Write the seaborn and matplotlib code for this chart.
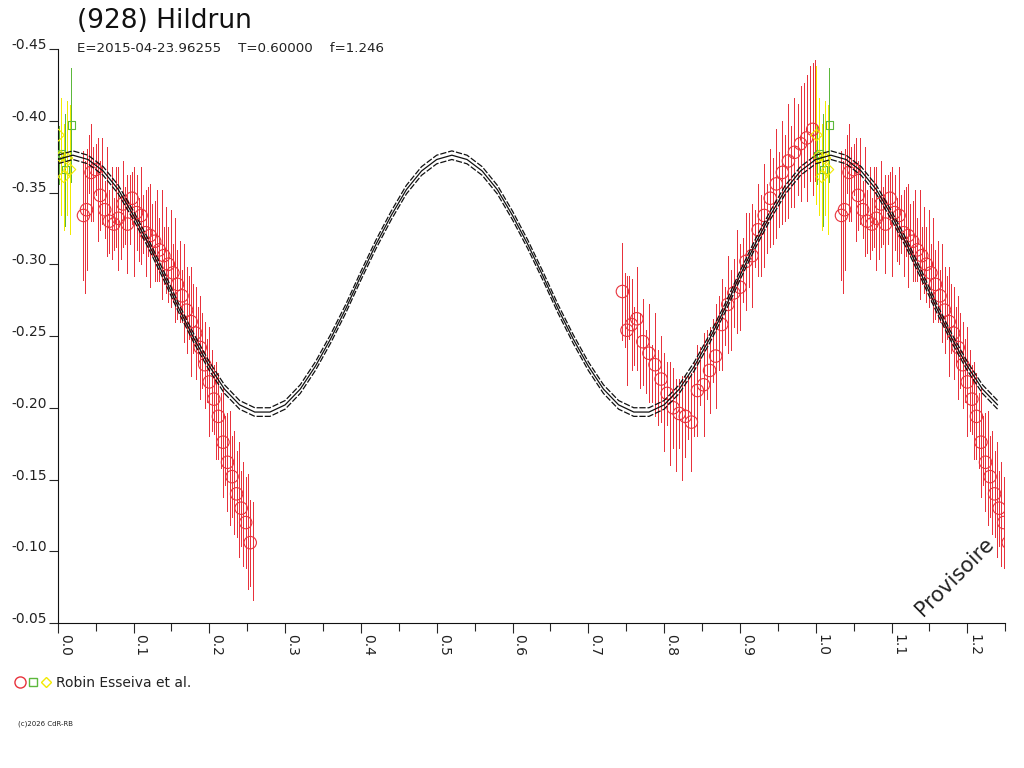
import numpy as np
import pandas as pd
import matplotlib
matplotlib.use("Agg")
import matplotlib.pyplot as plt
from matplotlib.lines import Line2D
from matplotlib.legend_handler import HandlerTuple
import seaborn as sns

TITLE = "(928) Hildrun"
SUBTITLE = "E=2015-04-23.96255    T=0.60000    f=1.246"
OBSERVER = "Robin Esseiva et al."
CREDIT = "(c)2026 CdR-RB"
WATERMARK = "Provisoire"

RED = "#e8323c"
GREEN = "#5cb83c"
YELLOW = "#f2ea00"
INK = "#222222"

# fitted curve, phase 0..1 every 0.02
fit_mag = [-0.373, -0.376, -0.373, -0.365, -0.352, -0.334, -0.314, -0.292, -0.269,
           -0.248, -0.229, -0.213, -0.202, -0.197, -0.197, -0.202, -0.213, -0.229,
           -0.248, -0.269, -0.292, -0.314, -0.334, -0.352, -0.365, -0.373, -0.376,
           -0.373, -0.365, -0.352, -0.334, -0.314, -0.292, -0.269, -0.248, -0.229,
           -0.213, -0.202, -0.197, -0.197, -0.202, -0.213, -0.229, -0.248, -0.269,
           -0.292, -0.314, -0.334, -0.352, -0.365, -0.373]
fit_phase = np.round(np.linspace(0, 1, len(fit_mag)), 2)
fit_band = 0.003

# red session (circles)
red_phase = [0.034, 0.036, 0.038, 0.041, 0.044, 0.047, 0.050, 0.053, 0.056, 0.059,
             0.062, 0.065, 0.068, 0.071, 0.074, 0.077, 0.080, 0.083, 0.086, 0.089,
             0.092, 0.095, 0.098, 0.101, 0.104, 0.107, 0.110, 0.113, 0.116, 0.119,
             0.122, 0.125, 0.128, 0.131, 0.134, 0.137, 0.140, 0.143, 0.146, 0.149,
             0.152, 0.155, 0.158, 0.161, 0.164, 0.167, 0.170, 0.173, 0.176, 0.179,
             0.182, 0.185, 0.188, 0.191, 0.194, 0.197, 0.200, 0.203, 0.206, 0.209,
             0.212, 0.215, 0.218, 0.221, 0.224, 0.227, 0.230, 0.233, 0.236, 0.239,
             0.242, 0.245, 0.248, 0.251, 0.254, 0.257,
             0.745, 0.748, 0.751, 0.754, 0.757, 0.760, 0.764, 0.768, 0.772, 0.776,
             0.780, 0.784, 0.788, 0.792, 0.796, 0.800, 0.804, 0.808, 0.812, 0.816,
             0.820, 0.824, 0.828, 0.832, 0.836, 0.840, 0.844, 0.848, 0.852, 0.856,
             0.860, 0.864, 0.868, 0.872, 0.876, 0.880, 0.884, 0.888, 0.892, 0.896,
             0.900, 0.904, 0.908, 0.912, 0.916, 0.920, 0.924, 0.928, 0.932, 0.936,
             0.940, 0.944, 0.948, 0.952, 0.956, 0.960, 0.964, 0.968, 0.972, 0.976,
             0.980, 0.984, 0.988, 0.992, 0.996, 0.999]
red_mag = [-0.334, -0.326, -0.338, -0.370, -0.364, -0.356, -0.366, -0.352, -0.348, -0.358,
           -0.338, -0.344, -0.330, -0.336, -0.328, -0.340, -0.332, -0.326, -0.342, -0.334,
           -0.328, -0.338, -0.346, -0.330, -0.336, -0.324, -0.334, -0.328, -0.322, -0.330,
           -0.320, -0.324, -0.316, -0.320, -0.310, -0.314, -0.306, -0.310, -0.300, -0.304,
           -0.294, -0.296, -0.286, -0.288, -0.278, -0.280, -0.268, -0.270, -0.260, -0.262,
           -0.252, -0.250, -0.242, -0.240, -0.230, -0.226, -0.218, -0.212, -0.206, -0.198,
           -0.194, -0.184, -0.176, -0.170, -0.162, -0.158, -0.152, -0.148, -0.140, -0.136,
           -0.130, -0.126, -0.120, -0.114, -0.106, -0.100,
           -0.281, -0.268, -0.254, -0.270, -0.258, -0.250, -0.262, -0.240, -0.246, -0.232,
           -0.238, -0.224, -0.230, -0.214, -0.220, -0.204, -0.210, -0.196, -0.200, -0.188,
           -0.196, -0.186, -0.194, -0.200, -0.190, -0.206, -0.212, -0.222, -0.216, -0.230,
           -0.226, -0.240, -0.236, -0.252, -0.258, -0.264, -0.272, -0.268, -0.280, -0.288,
           -0.284, -0.296, -0.302, -0.310, -0.306, -0.318, -0.324, -0.320, -0.334, -0.332,
           -0.346, -0.344, -0.356, -0.352, -0.364, -0.360, -0.372, -0.368, -0.378, -0.380,
           -0.384, -0.390, -0.388, -0.398, -0.394, -0.400]
red_err = [0.045, 0.046, 0.042, 0.020, 0.034, 0.026, 0.018, 0.036, 0.024, 0.030,
           0.020, 0.038, 0.022, 0.032, 0.018, 0.028, 0.036, 0.022, 0.030, 0.020,
           0.034, 0.024, 0.018, 0.038, 0.026, 0.022, 0.034, 0.020, 0.030, 0.024,
           0.036, 0.018, 0.028, 0.032, 0.022, 0.038, 0.020, 0.030, 0.026, 0.034,
           0.020, 0.036, 0.024, 0.028, 0.018, 0.034, 0.030, 0.022, 0.038, 0.024,
           0.032, 0.020, 0.036, 0.026, 0.030, 0.022, 0.038, 0.028, 0.024, 0.034,
           0.030, 0.026, 0.038, 0.024, 0.034, 0.040, 0.028, 0.036, 0.030, 0.040,
           0.026, 0.036, 0.032, 0.040, 0.030, 0.034,
           0.034, 0.026, 0.038, 0.022, 0.032, 0.020, 0.036, 0.026, 0.030, 0.022,
           0.034, 0.020, 0.036, 0.026, 0.030, 0.034, 0.022, 0.036, 0.028, 0.032,
           0.024, 0.036, 0.028, 0.022, 0.034, 0.026, 0.032, 0.020, 0.036, 0.024,
           0.030, 0.022, 0.036, 0.026, 0.032, 0.020, 0.034, 0.028, 0.024, 0.036,
           0.030, 0.022, 0.034, 0.026, 0.036, 0.020, 0.032, 0.028, 0.036, 0.024,
           0.034, 0.030, 0.038, 0.026, 0.036, 0.030, 0.040, 0.028, 0.038, 0.032,
           0.040, 0.036, 0.044, 0.040, 0.046, 0.042]

# green session (squares)
green_phase = [0.002, 0.005, 0.010, 0.018]
green_mag = [-0.376, -0.377, -0.366, -0.397]
green_err = [0.020, 0.038, 0.039, 0.040]

# yellow session (diamonds)
yellow_phase = [0.001, 0.004, 0.008, 0.012, 0.016]
yellow_mag = [-0.390, -0.375, -0.361, -0.374, -0.366]
yellow_err = [0.048, 0.041, 0.037, 0.040, 0.045]


def wrap(df):
    # phases below 0.26 are shown again after 1.0
    extra = df[(df["phase"] > 0) & (df["phase"] < 0.26)].copy()
    extra["phase"] = extra["phase"] + 1
    return pd.concat([df, extra], ignore_index=True)


fit = wrap(pd.DataFrame({"phase": fit_phase, "mag": fit_mag}))
fit["upper"] = fit["mag"] - fit_band
fit["lower"] = fit["mag"] + fit_band
red = wrap(pd.DataFrame({"phase": red_phase, "mag": red_mag, "err": red_err}))
green = wrap(pd.DataFrame({"phase": green_phase, "mag": green_mag, "err": green_err}))
yellow = wrap(pd.DataFrame({"phase": yellow_phase, "mag": yellow_mag, "err": yellow_err}))

sns.set_style("ticks")
plt.rcParams["font.family"] = ["DejaVu Sans"]

fig = plt.figure(figsize=(10.24, 7.68), dpi=100)
ax = fig.add_axes([57.7 / 1024, 1 - 623 / 768, (1005.2 - 57.7) / 1024, (623 - 49) / 768])


def draw_set(df, color, marker, size, every):
    ax.vlines(df["phase"], df["mag"] - df["err"], df["mag"] + df["err"],
              colors=color, linewidth=0.5, antialiased=False, zorder=2)
    sns.scatterplot(data=df.iloc[::every], x="phase", y="mag", marker=marker, s=size,
                    facecolor="none", edgecolor=color, linewidth=0.8,
                    ax=ax, zorder=3, legend=False)


draw_set(red, RED, "o", 80, 2)
draw_set(green, GREEN, "s", 28, 1)
draw_set(yellow, YELLOW, "D", 36, 1)

sns.lineplot(data=fit, x="phase", y="mag", color="#111111", linewidth=0.9,
             estimator=None, ax=ax, zorder=4)
for col in ["upper", "lower"]:
    sns.lineplot(data=fit, x="phase", y=col, color="#111111", linewidth=0.9,
                 linestyle=(0, (5, 1.5)), estimator=None, ax=ax, zorder=4)

ax.set_xlim(0, 1.25)
ax.set_ylim(-0.05, -0.45)
xt = np.round(np.arange(0, 1.21, 0.1), 1)
ax.set_xticks(xt)
ax.set_xticklabels([f"{v:.1f}" for v in xt])
ax.set_xticks(np.round(np.arange(0.05, 1.26, 0.1), 2), minor=True)
yt = np.round(np.arange(-0.45, -0.04, 0.05), 2)
ax.set_yticks(yt)
ax.set_yticklabels([f"{v:.2f}" for v in yt])
ax.set_xlabel("")
ax.set_ylabel("")

ax.tick_params(axis="x", which="major", length=7.2, width=0.8, pad=0.5,
               labelsize=10, labelcolor=INK, labelrotation=270)
ax.tick_params(axis="x", which="minor", length=5.8, width=0.8)
ax.tick_params(axis="y", length=6.8, width=0.8, pad=1, labelsize=10, labelcolor=INK)
plt.setp(ax.get_xticklabels(), ha="left", va="top")
plt.setp(ax.get_yticklabels(), va="baseline")
sns.despine(ax=ax)
for s in ["left", "bottom"]:
    ax.spines[s].set_color("#111111")
    ax.spines[s].set_linewidth(0.8)

fig.text(77 / 1024, 1 - 20.5 / 768, TITLE, fontsize=19, ha="left", va="center", color="#111111")
fig.text(77 / 1024, 1 - 49 / 768, SUBTITLE, fontsize=9.6, ha="left", va="center", color=INK)
fig.text(955 / 1024, 1 - 577 / 768, WATERMARK, fontsize=15, rotation=45,
         ha="center", va="center", color=INK)
fig.text(18 / 1024, 1 - 724 / 768, CREDIT, fontsize=5, ha="left", va="center", color=INK)

handles = (Line2D([], [], ls="none", marker="o", mfc="none", mec=RED, ms=8),
           Line2D([], [], ls="none", marker="s", mfc="none", mec=GREEN, ms=5.5),
           Line2D([], [], ls="none", marker="D", mfc="none", mec=YELLOW, ms=5.5))
fig.legend(handles=[handles], labels=[OBSERVER], loc="center left",
           bbox_to_anchor=(14 / 1024, 1 - 683 / 768), frameon=False,
           handler_map={tuple: HandlerTuple(ndivide=None, pad=0.1)},
           handlelength=2.7, handletextpad=0.35, fontsize=10,
           borderpad=0, borderaxespad=0, labelcolor=INK)

fig.savefig("out.png", dpi=100)
